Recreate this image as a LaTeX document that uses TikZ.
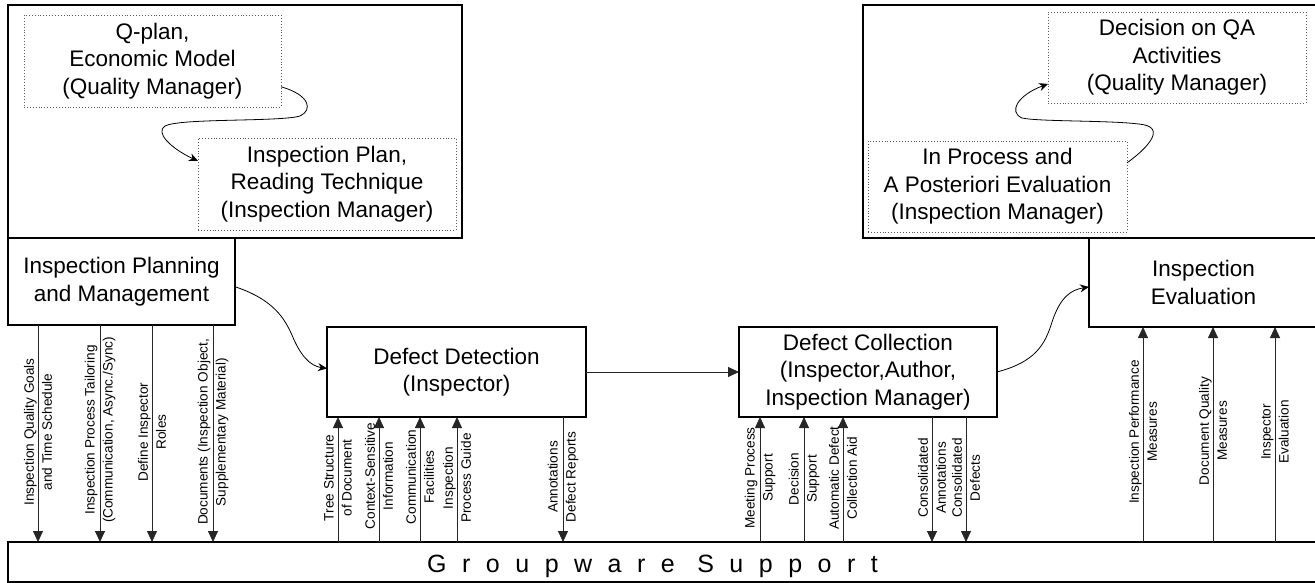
\documentclass[tikz,border=0pt]{standalone}
\usepackage{fontspec}
\setmainfont{Liberation Sans}
\usetikzlibrary{arrows.meta,calc}
\begin{document}
\begin{tikzpicture}[x=1pt,y=-1pt,
  box/.style={draw=black,line width=1.5pt,align=center,inner sep=0pt,outer sep=0pt,font=\fontsize{22.5}{27.5}\selectfont},
  dbox/.style={draw=black!65,dotted,line width=0.9pt,align=center,inner sep=0pt,outer sep=0pt,font=\fontsize{22.5}{27.5}\selectfont},
  lbl/.style={rotate=90,align=center,inner sep=0pt,font=\fontsize{13.6}{18}\selectfont},
  varr/.style={draw=black!85,line width=0.8pt,-{Triangle[width=10pt,length=11pt]}},
  carr/.style={draw=black,line width=0.8pt,-{Stealth[width=8pt,length=9pt]}},
]
\useasboundingbox (0,0) rectangle (1315,583);

% big boxes
\node[box,minimum width=454pt,minimum height=233pt] (bigL) at (235,121.5) {};
\node[box,minimum width=455pt,minimum height=233pt] (bigR) at (1090.5,121.5) {};
\node[box,minimum width=1310pt,minimum height=40pt] (gw) at (663,562) {};

% top left
\node[dbox,minimum width=257pt,minimum height=92pt] (qplan) at (152.5,61) {Q-plan,\\Economic Model\\(Quality Manager)};
\node[dbox,minimum width=258pt,minimum height=92pt] (iplan) at (327,184) {Inspection Plan,\\Reading Technique\\(Inspection Manager)};

% top right
\node[dbox,minimum width=258pt,minimum height=91pt] (dec) at (1177,57.5) {Decision on QA\\Activities\\(Quality Manager)};
\node[dbox,minimum width=259pt,minimum height=91pt] (ipe) at (997.5,186.5) {In Process and\\A Posteriori Evaluation\\(Inspection Manager)};

% process boxes
\node[box,fill=white,minimum width=227pt,minimum height=87pt] (ipm) at (121.5,281.5) {Inspection Planning\\and Management};
\node[box,minimum width=259pt,minimum height=90pt] (dd) at (456.5,372) {Defect Detection\\(Inspector)};
\node[box,minimum width=258pt,minimum height=90pt] (dc) at (868,372) {Defect Collection\\(Inspector,Author,\\Inspection Manager)};
\node[box,fill=white,minimum width=229pt,minimum height=89pt] (ie) at (1203.5,282.5) {Inspection\\Evaluation};

% groupware text
\node[anchor=base west,inner sep=0pt,font=\fontsize{25}{30}\selectfont\addfontfeatures{LetterSpace=62}] (gwt) at (427,572) {Groupware Support};

% curved connectors
\coordinate (s1) at ($(qplan.north east)!0.78!(qplan.south east)$);
\coordinate (e1) at ($(iplan.north west)!0.25!(iplan.south west)$);
\draw[carr] (s1) .. controls (310,95) and (313,110) .. (300,116) .. controls (280,122) and (180,118) .. (165,126) .. controls (155,132) and (170,148) .. (e1);

\coordinate (s2) at ($(ipm.north east)!0.56!(ipm.south east)$);
\coordinate (e2) at ($(dd.north west)!0.46!(dd.south west)$);
\draw[carr] (s2) .. controls (275,300) and (285,320) .. (292,335) .. controls (300,355) and (310,366) .. (e2);

\draw[varr] (dd.east) -- (dc.west);

\coordinate (e3) at ($(ie.north west)!0.55!(ie.south west)$);
\draw[carr] (dc.east) .. controls (1035,362) and (1045,345) .. (1052,322) .. controls (1060,298) and (1070,290) .. (e3);

\coordinate (s4) at ($(ipe.north east)!0.24!(ipe.south east)$);
\coordinate (e4) at ($(dec.north west)!0.79!(dec.south west)$);
\draw[carr] (s4) .. controls (1145,150) and (1165,130) .. (1145,125) .. controls (1120,120) and (1040,122) .. (1022,118) .. controls (1008,112) and (1018,95) .. (e4);

% arrow x positions
\coordinate (a1) at (38,0);
\coordinate (a2) at (100,0);
\coordinate (a3) at (152,0);
\coordinate (a4) at (213,0);
\coordinate (b1) at (338,0);
\coordinate (b2) at (379,0);
\coordinate (b3) at (420,0);
\coordinate (b4) at (457,0);
\coordinate (b5) at (563,0);
\coordinate (c1) at (760,0);
\coordinate (c2) at (804,0);
\coordinate (c3) at (843,0);
\coordinate (c4) at (932,0);
\coordinate (c5) at (966,0);
\coordinate (d1) at (1143,0);
\coordinate (d2) at (1213,0);
\coordinate (d3) at (1275,0);

% planning outputs
\draw[varr] (ipm.south -| a1) -- (gw.north -| a1);
\draw[varr] (ipm.south -| a2) -- (gw.north -| a2);
\draw[varr] (ipm.south -| a3) -- (gw.north -| a3);
\draw[varr] (ipm.south -| a4) -- (gw.north -| a4);
\node[lbl] (la1) at (38,432) {Inspection Quality Goals\\and Time Schedule};
\node[lbl] (la2) at (100,430) {Inspection Process Tailoring\\(Communication, Async./Sync)};
\node[lbl] (la3) at (152,432) {Define Inspector\\Roles};
\node[lbl] (la4) at (213,432) {Documents (Inspection Object,\\Supplementary Material)};

% defect detection
\draw[varr] (gw.north -| b1) -- (dd.south -| b1);
\draw[varr] (gw.north -| b2) -- (dd.south -| b2);
\draw[varr] (gw.north -| b3) -- (dd.south -| b3);
\draw[varr] (gw.north -| b4) -- (dd.south -| b4);
\draw[varr] (dd.south -| b5) -- (gw.north -| b5);
\node[lbl] (lb1) at (338,478) {Tree Structure\\of Document};
\node[lbl] (lb2) at (379,476) {Context-Sensitive\\Information};
\node[lbl] (lb3) at (420,477) {Communication\\Facilities};
\node[lbl] (lb4) at (457,478) {Inspection\\Process Guide};
\node[lbl] (lb5) at (563,477) {Annotations\\Defect Reports};

% defect collection
\draw[varr] (gw.north -| c1) -- (dc.south -| c1);
\draw[varr] (gw.north -| c2) -- (dc.south -| c2);
\draw[varr] (gw.north -| c3) -- (dc.south -| c3);
\draw[varr] (dc.south -| c4) -- (gw.north -| c4);
\draw[varr] (dc.south -| c5) -- (gw.north -| c5);
\node[lbl] (lc1) at (760,478) {Meeting Process\\Support};
\node[lbl] (lc2) at (804,479) {Decision\\Support};
\node[lbl] (lc3) at (843,478) {Automatic Defect\\Collection Aid};
\node[lbl] (lc4) at (932,478) {Consolidated\\Annotations};
\node[lbl] (lc5) at (966,478) {Consolidated\\Defects};

% evaluation
\draw[varr] (gw.north -| d1) -- (ie.south -| d1);
\draw[varr] (gw.north -| d2) -- (ie.south -| d2);
\draw[varr] (gw.north -| d3) -- (ie.south -| d3);
\node[lbl] (ld1) at (1143,432) {Inspection Performance\\Measures};
\node[lbl] (ld2) at (1213,431) {Document Quality\\Measures};
\node[lbl] (ld3) at (1275,432) {Inspector\\Evaluation};
\end{tikzpicture}
\end{document}
